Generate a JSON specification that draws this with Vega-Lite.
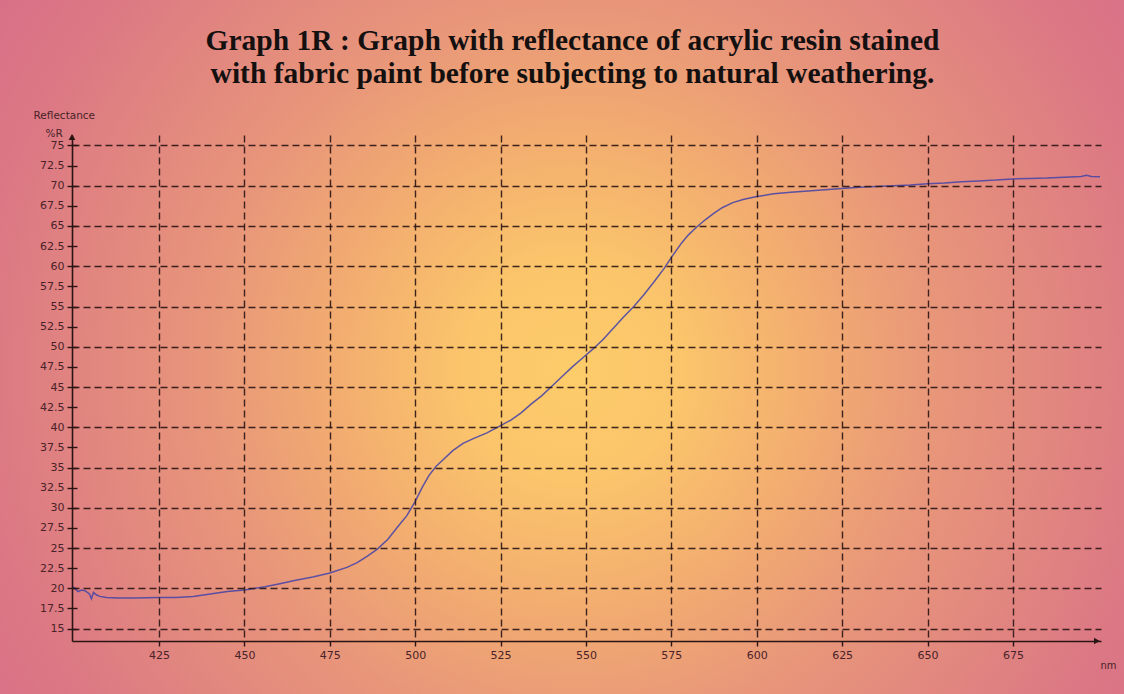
{
  "$schema": "https://vega.github.io/schema/vega-lite/v6.json",
  "width": 1029,
  "height": 506,
  "autosize": {"type": "none"},
  "padding": {"left": 72, "top": 135, "right": 23, "bottom": 53},
  "background": "#dd7a84",
  "config": {"view": {"stroke": null}},
  "resolve": {"axis": {"y": "independent"}},
  "title": {
    "text": ["Graph 1R : Graph with reflectance of acrylic resin stained", "with fabric paint before subjecting to natural weathering."],
    "font": "Liberation Serif",
    "fontSize": 29.5,
    "fontWeight": "bold",
    "color": "#141010",
    "anchor": "middle",
    "frame": "group",
    "offset": -281,
    "dx": -14,
    "lineHeight": 33,
    "zindex": 2
  },
  "layer": [
    {
      "data": {"values": [{}]},
      "mark": {
        "type": "rect",
        "fill": {
          "gradient": "radial",
          "x1": 0.51, "y1": 0.5, "r1": 0,
          "x2": 0.51, "y2": 0.5, "r2": 0.65,
          "stops": [
            {"offset": 0, "color": "#fdcc6a"},
            {"offset": 0.15, "color": "#fbc56b"},
            {"offset": 0.33, "color": "#f2ac70"},
            {"offset": 0.5, "color": "#e8967a"},
            {"offset": 0.8, "color": "#dc7984"},
            {"offset": 1, "color": "#d66c89"}
          ]
        }
      },
      "encoding": {
        "x": {"datum": 378.42, "type": "quantitative"},
        "x2": {"datum": 707.53},
        "y": {
          "datum": 116.9,
          "type": "quantitative",
          "axis": {
            "orient": "left",
            "values": [15, 20, 25, 30, 35, 40, 45, 50, 55, 60, 65, 70, 75],
            "labels": false,
            "ticks": false,
            "domain": false,
            "title": null,
            "grid": true,
            "gridColor": "#2a1414",
            "gridDash": [7, 4],
            "gridWidth": 1.4,
            "gridOpacity": 0.9,
            "zindex": 1
          }
        },
        "y2": {"datum": -22.68}
      }
    },
    {
      "data": {
        "values": [
          {"wavelength": 399.8, "reflectance": 20.2},
          {"wavelength": 400.5, "reflectance": 19.9},
          {"wavelength": 401.3, "reflectance": 19.6},
          {"wavelength": 402.3, "reflectance": 19.8},
          {"wavelength": 403.3, "reflectance": 19.7},
          {"wavelength": 404.6, "reflectance": 19.3},
          {"wavelength": 405.2, "reflectance": 18.7},
          {"wavelength": 405.8, "reflectance": 19.5},
          {"wavelength": 406.6, "reflectance": 19.2},
          {"wavelength": 407.6, "reflectance": 19.0},
          {"wavelength": 409.6, "reflectance": 18.85},
          {"wavelength": 413, "reflectance": 18.8},
          {"wavelength": 418, "reflectance": 18.8},
          {"wavelength": 425, "reflectance": 18.85},
          {"wavelength": 430, "reflectance": 18.85},
          {"wavelength": 435, "reflectance": 19.0},
          {"wavelength": 440, "reflectance": 19.3},
          {"wavelength": 445, "reflectance": 19.6},
          {"wavelength": 450, "reflectance": 19.8},
          {"wavelength": 456, "reflectance": 20.2},
          {"wavelength": 460, "reflectance": 20.55},
          {"wavelength": 465, "reflectance": 21.0},
          {"wavelength": 470, "reflectance": 21.4},
          {"wavelength": 475, "reflectance": 21.9},
          {"wavelength": 480, "reflectance": 22.6},
          {"wavelength": 483, "reflectance": 23.2},
          {"wavelength": 486, "reflectance": 24.0},
          {"wavelength": 489, "reflectance": 24.9},
          {"wavelength": 492, "reflectance": 26.1},
          {"wavelength": 495, "reflectance": 27.7},
          {"wavelength": 497.5, "reflectance": 29.0},
          {"wavelength": 500, "reflectance": 30.8},
          {"wavelength": 502, "reflectance": 32.5},
          {"wavelength": 504, "reflectance": 34.0},
          {"wavelength": 506, "reflectance": 35.1},
          {"wavelength": 508, "reflectance": 35.9},
          {"wavelength": 511, "reflectance": 37.1},
          {"wavelength": 514, "reflectance": 38.0},
          {"wavelength": 517, "reflectance": 38.6},
          {"wavelength": 521, "reflectance": 39.3},
          {"wavelength": 525, "reflectance": 40.2},
          {"wavelength": 528, "reflectance": 40.9},
          {"wavelength": 531, "reflectance": 41.8},
          {"wavelength": 534, "reflectance": 42.9},
          {"wavelength": 537, "reflectance": 43.9},
          {"wavelength": 540, "reflectance": 45.1},
          {"wavelength": 543, "reflectance": 46.3},
          {"wavelength": 546, "reflectance": 47.5},
          {"wavelength": 549, "reflectance": 48.6},
          {"wavelength": 552, "reflectance": 49.7},
          {"wavelength": 555, "reflectance": 50.9},
          {"wavelength": 558, "reflectance": 52.3},
          {"wavelength": 561, "reflectance": 53.7},
          {"wavelength": 564, "reflectance": 55.0},
          {"wavelength": 567, "reflectance": 56.5},
          {"wavelength": 570, "reflectance": 58.1},
          {"wavelength": 573, "reflectance": 59.8},
          {"wavelength": 575, "reflectance": 61.1},
          {"wavelength": 578, "reflectance": 62.9},
          {"wavelength": 580, "reflectance": 63.9},
          {"wavelength": 582.5, "reflectance": 64.9},
          {"wavelength": 585, "reflectance": 65.8},
          {"wavelength": 587.5, "reflectance": 66.6},
          {"wavelength": 590, "reflectance": 67.3},
          {"wavelength": 593, "reflectance": 67.9},
          {"wavelength": 596, "reflectance": 68.3},
          {"wavelength": 600, "reflectance": 68.65},
          {"wavelength": 605, "reflectance": 69.0},
          {"wavelength": 610, "reflectance": 69.2},
          {"wavelength": 615, "reflectance": 69.35},
          {"wavelength": 620, "reflectance": 69.5},
          {"wavelength": 625, "reflectance": 69.65},
          {"wavelength": 630, "reflectance": 69.8},
          {"wavelength": 635, "reflectance": 69.9},
          {"wavelength": 640, "reflectance": 70.0},
          {"wavelength": 645, "reflectance": 70.1},
          {"wavelength": 650, "reflectance": 70.25},
          {"wavelength": 655, "reflectance": 70.35},
          {"wavelength": 660, "reflectance": 70.5},
          {"wavelength": 665, "reflectance": 70.6},
          {"wavelength": 670, "reflectance": 70.7},
          {"wavelength": 675, "reflectance": 70.85},
          {"wavelength": 680, "reflectance": 70.9},
          {"wavelength": 685, "reflectance": 70.95},
          {"wavelength": 690, "reflectance": 71.05},
          {"wavelength": 695, "reflectance": 71.15},
          {"wavelength": 696.5, "reflectance": 71.3},
          {"wavelength": 698, "reflectance": 71.15},
          {"wavelength": 700.5, "reflectance": 71.1}
        ]
      },
      "mark": {"type": "line", "color": "#4b47a6", "strokeWidth": 1.5, "opacity": 0.9},
      "encoding": {
        "x": {
          "field": "wavelength",
          "type": "quantitative",
          "scale": {"domain": [399.5, 700.8], "nice": false, "zero": false},
          "axis": {
            "values": [425, 450, 475, 500, 525, 550, 575, 600, 625, 650, 675],
            "format": "d",
            "title": "nm",
            "titleX": 1036,
            "titleY": 24,
            "titleAlign": "center",
            "titleBaseline": "middle",
            "titleFont": "DejaVu Sans",
            "titleFontSize": 10,
            "titleFontWeight": "normal",
            "titleColor": "#4a2228",
            "labelFont": "DejaVu Sans",
            "labelFontSize": 11,
            "labelColor": "#4a2228",
            "labelPadding": 3,
            "labelOverlap": false,
            "tickSize": 5,
            "tickColor": "#2a1414",
            "tickWidth": 1.4,
            "domainColor": "#2a1414",
            "domainWidth": 1.6,
            "grid": true,
            "gridColor": "#2a1414",
            "gridDash": [7, 4],
            "gridWidth": 1.4,
            "gridOpacity": 0.9,
            "zindex": 1
          }
        },
        "y": {
          "field": "reflectance",
          "type": "quantitative",
          "scale": {"domain": [13.46, 76.3], "nice": false, "zero": false},
          "axis": {
            "orient": "left",
            "values": [15, 17.5, 20, 22.5, 25, 27.5, 30, 32.5, 35, 37.5, 40, 42.5, 45, 47.5, 50, 52.5, 55, 57.5, 60, 62.5, 65, 67.5, 70, 72.5, 75],
            "format": ".1~f",
            "title": "Reflectance",
            "titleAngle": 0,
            "titleAlign": "left",
            "titleBaseline": "alphabetic",
            "titleX": -39,
            "titleY": -16.5,
            "titleFont": "DejaVu Sans",
            "titleFontSize": 10.5,
            "titleFontWeight": "normal",
            "titleColor": "#4a2228",
            "labelFont": "DejaVu Sans",
            "labelFontSize": 11,
            "labelColor": "#4a2228",
            "labelPadding": 3,
            "labelOverlap": false,
            "tickSize": 5,
            "tickColor": "#2a1414",
            "tickWidth": 1.4,
            "domainColor": "#2a1414",
            "domainWidth": 1.6,
            "grid": false,
            "zindex": 1
          }
        }
      }
    },
    {
      "data": {"values": [{}]},
      "mark": {"type": "point", "shape": "triangle-up", "filled": true, "size": 45, "color": "#2a1414", "opacity": 1},
      "encoding": {
        "x": {"datum": 399.5, "type": "quantitative"},
        "y": {
          "datum": 76.05,
          "type": "quantitative",
          "axis": {
            "orient": "left",
            "values": [15, 17.5, 20, 22.5, 25, 27.5, 30, 32.5, 35, 37.5, 40, 42.5, 45, 47.5, 50, 52.5, 55, 57.5, 60, 62.5, 65, 67.5, 70, 72.5, 75],
            "labels": false,
            "domain": false,
            "grid": false,
            "title": "%R",
            "titleAngle": 0,
            "titleAlign": "left",
            "titleBaseline": "alphabetic",
            "titleX": -27,
            "titleY": 1.5,
            "titleFont": "DejaVu Sans",
            "titleFontSize": 10.5,
            "titleFontWeight": "normal",
            "titleColor": "#4a2228",
            "ticks": true,
            "tickSize": -5,
            "tickColor": "#2a1414",
            "tickWidth": 1.4,
            "zindex": 1
          }
        }
      }
    },
    {
      "data": {"values": [{}]},
      "mark": {"type": "point", "shape": "triangle-right", "filled": true, "size": 45, "color": "#2a1414", "opacity": 1},
      "encoding": {
        "x": {"datum": 699.6, "type": "quantitative"},
        "y": {"datum": 13.46, "type": "quantitative", "axis": null}
      }
    }
  ]
}
